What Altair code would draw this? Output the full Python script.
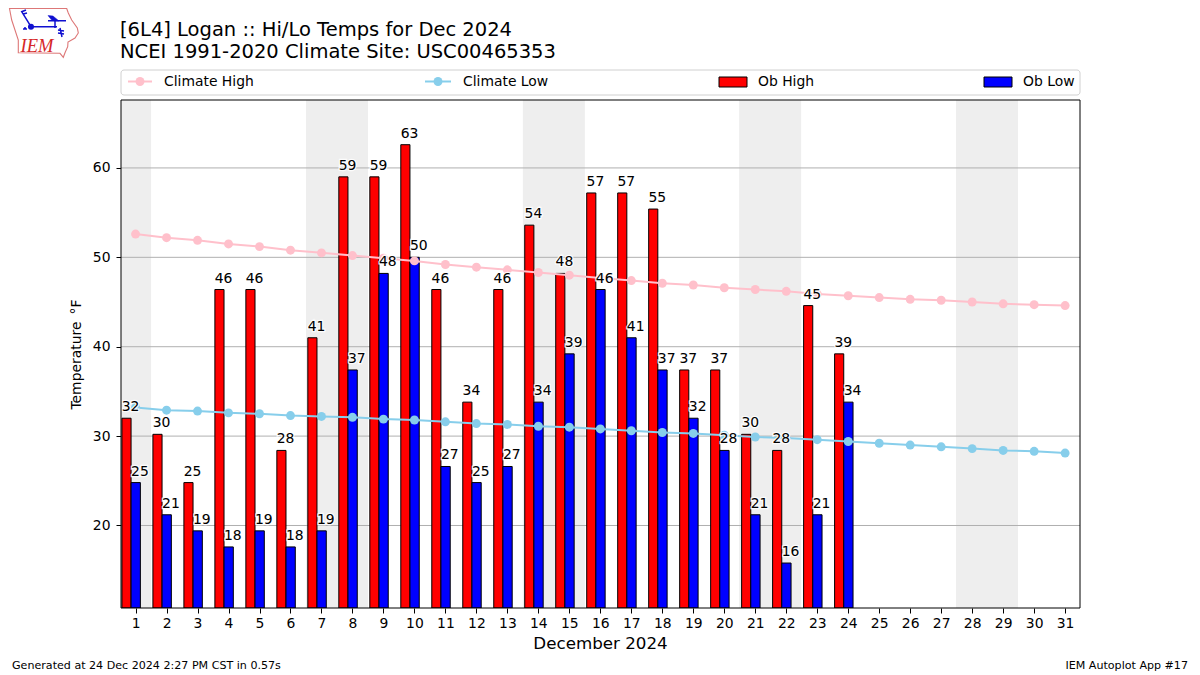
import altair as alt
import pandas as pd

days = list(range(1, 32))
ob_days = list(range(1, 25))
ob_high = [32, 30.2, 24.8, 46.4, 46.4, 28.4, 41, 59, 59, 62.6, 46.4, 33.8, 46.4, 53.6, 48.2, 57.2,
           57.2, 55.4, 37.4, 37.4, 30.2, 28.4, 44.6, 39.2]
ob_low = [24.8, 21.2, 19.4, 17.6, 19.4, 17.6, 19.4, 37.4, 48.2, 50, 26.6, 24.8, 26.6, 33.8, 39.2,
          46.4, 41, 37.4, 32, 28.4, 21.2, 15.8, 21.2, 33.8]
clim_high = [52.6, 52.2, 51.9, 51.5, 51.2, 50.8, 50.5, 50.2, 49.9, 49.6, 49.2, 48.9, 48.6, 48.3, 48.0,
             47.7, 47.4, 47.1, 46.9, 46.6, 46.4, 46.2, 45.9, 45.7, 45.5, 45.3, 45.2, 45.0, 44.8, 44.7, 44.6]
clim_low = [33.2, 32.9, 32.8, 32.6, 32.5, 32.3, 32.2, 32.1, 31.9, 31.8, 31.6, 31.4, 31.3, 31.1, 31.0,
            30.8, 30.6, 30.4, 30.3, 30.1, 29.9, 29.8, 29.6, 29.4, 29.2, 29.0, 28.8, 28.6, 28.4, 28.3, 28.1]
weekend_start = [0.5, 6.5, 13.5, 20.48, 27.48]
weekend_end = [1.5, 8.5, 15.5, 22.48, 29.48]
y_ticks = [20, 30, 40, 50, 60]

title_lines = ["[6L4] Logan :: Hi/Lo Temps for Dec 2024", "NCEI 1991-2020 Climate Site: USC00465353"]
footer_left = "Generated at 24 Dec 2024 2:27 PM CST in 0.57s"
footer_right = "IEM Autoplot App #17"

PW, PH = 959, 508
X0, Y0 = 121, 100
FONT = "DejaVu Sans"
X_DOM = [0.53, 31.48]
Y_DOM = [10.77, 67.6]
x_scale = alt.Scale(domain=X_DOM, nice=False, zero=False)
y_scale = alt.Scale(domain=Y_DOM, nice=False, zero=False)

obs = pd.DataFrame({"day": ob_days, "high": ob_high, "low": ob_low})
obs["hi_a"] = obs.day - 0.44
obs["hi_b"] = obs.day - 0.145
obs["lo_b"] = obs.day + 0.155
obs["hi_lab_x"] = obs.day - 0.16
obs["lo_lab_x"] = obs.day + 0.14
obs["hi_txt"] = [str(int(round(v))) for v in ob_high]
obs["lo_txt"] = [str(int(round(v))) for v in ob_low]
clim = pd.DataFrame({"day": days, "high": clim_high, "low": clim_low})
shade = pd.DataFrame({"a": weekend_start, "b": weekend_end})
grid = pd.DataFrame({"y": y_ticks})
one = pd.DataFrame({"k": [0]})


def X(f):
    return alt.X(f, type="quantitative", scale=x_scale,
                 axis=alt.Axis(values=days, format="d", title="December 2024", grid=False, domain=False,
                               labelFontSize=13.9, titleFontSize=16.7, labelColor="black", titleColor="black",
                               tickColor="black", tickSize=5, labelPadding=3, titlePadding=6, labelFont=FONT,
                               titleFont=FONT, titleFontWeight="normal", labelFlush=False, labelOverlap=False,
                               titleX=479))


def Y(f):
    return alt.Y(f, type="quantitative", scale=y_scale,
                 axis=alt.Axis(values=y_ticks, format="d", title="Temperature \u2009\u00b0F", grid=False, domain=False,
                               labelFontSize=13.9, titleFontSize=13.9, labelColor="black", titleColor="black",
                               tickColor="black", tickSize=5, labelPadding=6, titlePadding=9, labelFont=FONT,
                               titleFont=FONT, titleFontWeight="normal"))


def label(text, x, y, size=13.9, align="left", font=FONT, color="black", **kw):
    return alt.Chart(one).mark_text(text=text, font=font, fontSize=size, align=align, color=color, **kw).encode(
        x=alt.value(x - X0), y=alt.value(y - Y0))


layers = []
layers.append(alt.Chart(shade).mark_rect(color="#eeeeee", clip=True).encode(X("a:Q"), x2="b:Q"))
layers.append(alt.Chart(grid).mark_rule(color="#b0b0b0", strokeWidth=1).encode(Y("y:Q")))
for a, b, top, col in [("hi_a", "hi_b", "high", "#ff0000"), ("hi_b", "lo_b", "low", "#0000ff")]:
    layers.append(alt.Chart(obs).mark_rect(fill=col, stroke="black", strokeWidth=1, clip=True).encode(
        X(f"{a}:Q"), x2=f"{b}:Q", y=Y(f"{top}:Q"), y2=alt.Y2(datum=Y_DOM[0])))
for f, col in [("high", "#ffc0cb"), ("low", "#87ceeb")]:
    layers.append(alt.Chart(clim).mark_line(color=col, strokeWidth=2).encode(X("day:Q"), Y(f"{f}:Q")))
    layers.append(alt.Chart(clim).mark_circle(color=col, size=80, opacity=1).encode(X("day:Q"), Y(f"{f}:Q")))
for xf, yf, tf in [("hi_lab_x", "high", "hi_txt"), ("lo_lab_x", "low", "lo_txt")]:
    common = dict(font=FONT, fontSize=13.9, baseline="alphabetic", align="center", dy=-7)
    layers.append(alt.Chart(obs).mark_text(stroke="white", strokeWidth=2.5, strokeOpacity=0.9, **common).encode(
        X(f"{xf}:Q"), Y(f"{yf}:Q"), text=f"{tf}:N"))
    layers.append(alt.Chart(obs).mark_text(color="black", **common).encode(
        X(f"{xf}:Q"), Y(f"{yf}:Q"), text=f"{tf}:N"))

# plot frame
layers.append(alt.Chart(one).mark_rect(filled=False, stroke="black", strokeWidth=1).encode(
    x=alt.value(0), x2=alt.value(PW), y=alt.value(0), y2=alt.value(PH)))

# title
layers.append(label(title_lines[0], 120, 35.5, size=19.5, baseline="alphabetic"))
layers.append(label(title_lines[1], 120, 57.5, size=19.5, baseline="alphabetic"))

# legend box and entries
layers.append(alt.Chart(one).mark_rect(fill="white", stroke="#d0d0d0", strokeWidth=1, cornerRadius=3).encode(
    x=alt.value(0), x2=alt.value(PW), y=alt.value(70 - Y0), y2=alt.value(95 - Y0)))
for x1, x2, cx, tx, col, name in [(128, 152, 140, 164, "#ffc0cb", "Climate High"),
                                  (425, 451, 438, 463, "#87ceeb", "Climate Low")]:
    layers.append(alt.Chart(one).mark_rule(color=col, strokeWidth=2).encode(
        x=alt.value(x1 - X0), x2=alt.value(x2 - X0), y=alt.value(81.5 - Y0)))
    layers.append(alt.Chart(one).mark_circle(color=col, size=80, opacity=1).encode(
        x=alt.value(cx - X0), y=alt.value(81.5 - Y0)))
    layers.append(label(name, tx, 81.5, baseline="middle"))
for x1, x2, tx, col, name in [(719, 747, 758, "#ff0000", "Ob High"), (984, 1012, 1023, "#0000ff", "Ob Low")]:
    layers.append(alt.Chart(one).mark_rect(fill=col, stroke="black", strokeWidth=1).encode(
        x=alt.value(x1 - X0), x2=alt.value(x2 - X0), y=alt.value(77 - Y0), y2=alt.value(87 - Y0)))
    layers.append(label(name, tx, 81.5, baseline="middle"))

# footers
layers.append(label(footer_left, 12, 666, size=11.1, baseline="middle"))
layers.append(label(footer_right, 1188, 666, size=11.1, align="right", baseline="middle"))

# logo: outline, wind-barb glyph, wordmark (shape paths are in pixels around the anchor)
iowa = "M9.5 8.5L66.7 8.5L68.3 13L71.7 20L77.3 28L78.3 33L75 38L68 42L67.7 46.7L65 52.7L63.3 57.3L60 53.3L18.3 52.7L18.3 40L11.7 20Z"
barb = ("M28 26.7L57 26.7M31 26.7L21.7 11.7L26 10M23 14L27 13M48 20.7L66 20.7M55 21L55 28M60 28L62 37"
        "M58 30L64 31M58 33L64 34M24 28L26 28M23 29L27 29")
anchor = dict(x=alt.value(0 - X0), y=alt.value(0 - Y0))
layers.append(alt.Chart(one).mark_point(shape=iowa, size=4, filled=False, stroke="#dd7777", strokeWidth=1.1,
                                        opacity=1).encode(**anchor))
layers.append(alt.Chart(one).mark_point(shape=barb, size=4, filled=False, stroke="#1010d0", strokeWidth=1.5,
                                        opacity=1).encode(**anchor))
layers.append(alt.Chart(one).mark_point(shape="M48 15.5L53 16L59 21L52 20.5Z", size=4, filled=True, fill="#1010d0",
                                        stroke="#1010d0", strokeWidth=0.5, opacity=1).encode(**anchor))
layers.append(alt.Chart(one).mark_circle(size=36, color="#1010d0", opacity=1).encode(
    x=alt.value(31 - X0), y=alt.value(26.7 - Y0)))
layers.append(label("IEM", 37, 51.5, size=18.5, align="center", font="Liberation Serif", color="#d62728",
                    fontStyle="italic", baseline="alphabetic"))

chart = alt.layer(*layers).properties(
    width=PW, height=PH,
    autosize=alt.AutoSizeParams(type="none"),
    padding={"left": X0 - 8, "top": Y0 - 8, "right": 1184 - (X0 - 8) - PW, "bottom": 664 - (Y0 - 8) - PH},
).configure_view(stroke=None)

chart.save("out.html", embed_options={"renderer": "svg", "actions": False})
